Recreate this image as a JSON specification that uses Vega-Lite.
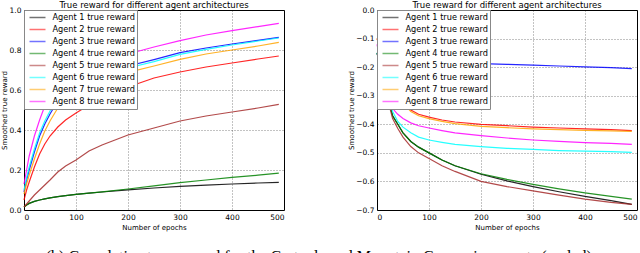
{
"$schema": "https://vega.github.io/schema/vega-lite/v6.json",
"padding": {"left": 0, "top": 0, "right": 0, "bottom": 0},
"background": "white",
"datasets": {
"cartpole": [
{"agent":1,"epoch":0,"reward":0.015},{"agent":1,"epoch":5,"reward":0.025},{"agent":1,"epoch":10,"reward":0.033},{"agent":1,"epoch":20,"reward":0.043},{"agent":1,"epoch":30,"reward":0.05},{"agent":1,"epoch":40,"reward":0.056},{"agent":1,"epoch":50,"reward":0.061},{"agent":1,"epoch":65,"reward":0.067},{"agent":1,"epoch":80,"reward":0.072},{"agent":1,"epoch":100,"reward":0.078},{"agent":1,"epoch":125,"reward":0.084},{"agent":1,"epoch":150,"reward":0.09},{"agent":1,"epoch":200,"reward":0.101},{"agent":1,"epoch":250,"reward":0.11},{"agent":1,"epoch":300,"reward":0.118},{"agent":1,"epoch":350,"reward":0.124},{"agent":1,"epoch":400,"reward":0.13},{"agent":1,"epoch":450,"reward":0.135},{"agent":1,"epoch":490,"reward":0.138},
{"agent":2,"epoch":0,"reward":0.05},{"agent":2,"epoch":5,"reward":0.1},{"agent":2,"epoch":10,"reward":0.14},{"agent":2,"epoch":20,"reward":0.215},{"agent":2,"epoch":30,"reward":0.28},{"agent":2,"epoch":40,"reward":0.33},{"agent":2,"epoch":50,"reward":0.37},{"agent":2,"epoch":65,"reward":0.415},{"agent":2,"epoch":80,"reward":0.45},{"agent":2,"epoch":100,"reward":0.485},{"agent":2,"epoch":125,"reward":0.525},{"agent":2,"epoch":150,"reward":0.56},{"agent":2,"epoch":200,"reward":0.615},{"agent":2,"epoch":250,"reward":0.66},{"agent":2,"epoch":300,"reward":0.69},{"agent":2,"epoch":350,"reward":0.715},{"agent":2,"epoch":400,"reward":0.735},{"agent":2,"epoch":450,"reward":0.755},{"agent":2,"epoch":490,"reward":0.77},
{"agent":3,"epoch":0,"reward":0.09},{"agent":3,"epoch":5,"reward":0.15},{"agent":3,"epoch":10,"reward":0.2},{"agent":3,"epoch":20,"reward":0.29},{"agent":3,"epoch":30,"reward":0.37},{"agent":3,"epoch":40,"reward":0.43},{"agent":3,"epoch":50,"reward":0.48},{"agent":3,"epoch":65,"reward":0.545},{"agent":3,"epoch":80,"reward":0.59},{"agent":3,"epoch":100,"reward":0.63},{"agent":3,"epoch":125,"reward":0.66},{"agent":3,"epoch":150,"reward":0.685},{"agent":3,"epoch":200,"reward":0.72},{"agent":3,"epoch":250,"reward":0.752},{"agent":3,"epoch":300,"reward":0.787},{"agent":3,"epoch":350,"reward":0.81},{"agent":3,"epoch":400,"reward":0.83},{"agent":3,"epoch":450,"reward":0.848},{"agent":3,"epoch":490,"reward":0.863},
{"agent":4,"epoch":0,"reward":0.015},{"agent":4,"epoch":5,"reward":0.025},{"agent":4,"epoch":10,"reward":0.033},{"agent":4,"epoch":20,"reward":0.043},{"agent":4,"epoch":30,"reward":0.05},{"agent":4,"epoch":40,"reward":0.056},{"agent":4,"epoch":50,"reward":0.061},{"agent":4,"epoch":65,"reward":0.067},{"agent":4,"epoch":80,"reward":0.072},{"agent":4,"epoch":100,"reward":0.078},{"agent":4,"epoch":125,"reward":0.084},{"agent":4,"epoch":150,"reward":0.091},{"agent":4,"epoch":200,"reward":0.105},{"agent":4,"epoch":250,"reward":0.121},{"agent":4,"epoch":300,"reward":0.137},{"agent":4,"epoch":350,"reward":0.15},{"agent":4,"epoch":400,"reward":0.163},{"agent":4,"epoch":450,"reward":0.174},{"agent":4,"epoch":490,"reward":0.184},
{"agent":5,"epoch":0,"reward":0.015},{"agent":5,"epoch":5,"reward":0.03},{"agent":5,"epoch":10,"reward":0.045},{"agent":5,"epoch":20,"reward":0.075},{"agent":5,"epoch":30,"reward":0.1},{"agent":5,"epoch":40,"reward":0.125},{"agent":5,"epoch":50,"reward":0.15},{"agent":5,"epoch":65,"reward":0.19},{"agent":5,"epoch":80,"reward":0.22},{"agent":5,"epoch":100,"reward":0.25},{"agent":5,"epoch":125,"reward":0.295},{"agent":5,"epoch":150,"reward":0.325},{"agent":5,"epoch":200,"reward":0.375},{"agent":5,"epoch":250,"reward":0.41},{"agent":5,"epoch":300,"reward":0.445},{"agent":5,"epoch":350,"reward":0.47},{"agent":5,"epoch":400,"reward":0.49},{"agent":5,"epoch":450,"reward":0.51},{"agent":5,"epoch":490,"reward":0.528},
{"agent":6,"epoch":0,"reward":0.1},{"agent":6,"epoch":5,"reward":0.16},{"agent":6,"epoch":10,"reward":0.215},{"agent":6,"epoch":20,"reward":0.305},{"agent":6,"epoch":30,"reward":0.385},{"agent":6,"epoch":40,"reward":0.445},{"agent":6,"epoch":50,"reward":0.495},{"agent":6,"epoch":65,"reward":0.555},{"agent":6,"epoch":80,"reward":0.595},{"agent":6,"epoch":100,"reward":0.625},{"agent":6,"epoch":125,"reward":0.655},{"agent":6,"epoch":150,"reward":0.678},{"agent":6,"epoch":200,"reward":0.71},{"agent":6,"epoch":250,"reward":0.742},{"agent":6,"epoch":300,"reward":0.778},{"agent":6,"epoch":350,"reward":0.803},{"agent":6,"epoch":400,"reward":0.825},{"agent":6,"epoch":450,"reward":0.845},{"agent":6,"epoch":490,"reward":0.86},
{"agent":7,"epoch":0,"reward":0.08},{"agent":7,"epoch":5,"reward":0.13},{"agent":7,"epoch":10,"reward":0.175},{"agent":7,"epoch":20,"reward":0.255},{"agent":7,"epoch":30,"reward":0.33},{"agent":7,"epoch":40,"reward":0.395},{"agent":7,"epoch":50,"reward":0.445},{"agent":7,"epoch":65,"reward":0.51},{"agent":7,"epoch":80,"reward":0.555},{"agent":7,"epoch":100,"reward":0.595},{"agent":7,"epoch":125,"reward":0.628},{"agent":7,"epoch":150,"reward":0.652},{"agent":7,"epoch":200,"reward":0.688},{"agent":7,"epoch":250,"reward":0.72},{"agent":7,"epoch":300,"reward":0.753},{"agent":7,"epoch":350,"reward":0.78},{"agent":7,"epoch":400,"reward":0.8},{"agent":7,"epoch":450,"reward":0.82},{"agent":7,"epoch":490,"reward":0.838},
{"agent":8,"epoch":0,"reward":0.13},{"agent":8,"epoch":5,"reward":0.2},{"agent":8,"epoch":10,"reward":0.27},{"agent":8,"epoch":20,"reward":0.37},{"agent":8,"epoch":30,"reward":0.45},{"agent":8,"epoch":40,"reward":0.52},{"agent":8,"epoch":50,"reward":0.565},{"agent":8,"epoch":65,"reward":0.615},{"agent":8,"epoch":80,"reward":0.655},{"agent":8,"epoch":100,"reward":0.69},{"agent":8,"epoch":125,"reward":0.72},{"agent":8,"epoch":150,"reward":0.74},{"agent":8,"epoch":200,"reward":0.78},{"agent":8,"epoch":250,"reward":0.815},{"agent":8,"epoch":300,"reward":0.847},{"agent":8,"epoch":350,"reward":0.875},{"agent":8,"epoch":400,"reward":0.897},{"agent":8,"epoch":450,"reward":0.917},{"agent":8,"epoch":490,"reward":0.933}
],
"mountain": [
{"agent":1,"epoch":0,"reward":-0.15},{"agent":1,"epoch":10,"reward":-0.22},{"agent":1,"epoch":20,"reward":-0.3},{"agent":1,"epoch":30,"reward":-0.37},{"agent":1,"epoch":40,"reward":-0.4},{"agent":1,"epoch":50,"reward":-0.43},{"agent":1,"epoch":65,"reward":-0.46},{"agent":1,"epoch":80,"reward":-0.48},{"agent":1,"epoch":100,"reward":-0.5},{"agent":1,"epoch":125,"reward":-0.525},{"agent":1,"epoch":150,"reward":-0.545},{"agent":1,"epoch":200,"reward":-0.575},{"agent":1,"epoch":250,"reward":-0.598},{"agent":1,"epoch":300,"reward":-0.618},{"agent":1,"epoch":350,"reward":-0.636},{"agent":1,"epoch":400,"reward":-0.652},{"agent":1,"epoch":450,"reward":-0.667},{"agent":1,"epoch":490,"reward":-0.68},
{"agent":2,"epoch":0,"reward":-0.1},{"agent":2,"epoch":10,"reward":-0.15},{"agent":2,"epoch":20,"reward":-0.2},{"agent":2,"epoch":30,"reward":-0.25},{"agent":2,"epoch":40,"reward":-0.29},{"agent":2,"epoch":50,"reward":-0.32},{"agent":2,"epoch":65,"reward":-0.35},{"agent":2,"epoch":80,"reward":-0.365},{"agent":2,"epoch":100,"reward":-0.375},{"agent":2,"epoch":125,"reward":-0.385},{"agent":2,"epoch":150,"reward":-0.392},{"agent":2,"epoch":200,"reward":-0.4},{"agent":2,"epoch":250,"reward":-0.405},{"agent":2,"epoch":300,"reward":-0.41},{"agent":2,"epoch":350,"reward":-0.413},{"agent":2,"epoch":400,"reward":-0.416},{"agent":2,"epoch":450,"reward":-0.419},{"agent":2,"epoch":490,"reward":-0.422},
{"agent":3,"epoch":0,"reward":-0.17},{"agent":3,"epoch":10,"reward":-0.171},{"agent":3,"epoch":20,"reward":-0.172},{"agent":3,"epoch":30,"reward":-0.173},{"agent":3,"epoch":40,"reward":-0.174},{"agent":3,"epoch":50,"reward":-0.175},{"agent":3,"epoch":65,"reward":-0.177},{"agent":3,"epoch":80,"reward":-0.178},{"agent":3,"epoch":100,"reward":-0.18},{"agent":3,"epoch":125,"reward":-0.182},{"agent":3,"epoch":150,"reward":-0.184},{"agent":3,"epoch":200,"reward":-0.188},{"agent":3,"epoch":250,"reward":-0.19},{"agent":3,"epoch":300,"reward":-0.193},{"agent":3,"epoch":350,"reward":-0.196},{"agent":3,"epoch":400,"reward":-0.199},{"agent":3,"epoch":450,"reward":-0.202},{"agent":3,"epoch":490,"reward":-0.205},
{"agent":4,"epoch":0,"reward":-0.15},{"agent":4,"epoch":10,"reward":-0.22},{"agent":4,"epoch":20,"reward":-0.3},{"agent":4,"epoch":30,"reward":-0.37},{"agent":4,"epoch":40,"reward":-0.4},{"agent":4,"epoch":50,"reward":-0.43},{"agent":4,"epoch":65,"reward":-0.46},{"agent":4,"epoch":80,"reward":-0.48},{"agent":4,"epoch":100,"reward":-0.5},{"agent":4,"epoch":125,"reward":-0.525},{"agent":4,"epoch":150,"reward":-0.545},{"agent":4,"epoch":200,"reward":-0.573},{"agent":4,"epoch":250,"reward":-0.593},{"agent":4,"epoch":300,"reward":-0.61},{"agent":4,"epoch":350,"reward":-0.626},{"agent":4,"epoch":400,"reward":-0.64},{"agent":4,"epoch":450,"reward":-0.652},{"agent":4,"epoch":490,"reward":-0.662},
{"agent":5,"epoch":0,"reward":-0.15},{"agent":5,"epoch":10,"reward":-0.23},{"agent":5,"epoch":20,"reward":-0.31},{"agent":5,"epoch":30,"reward":-0.38},{"agent":5,"epoch":40,"reward":-0.415},{"agent":5,"epoch":50,"reward":-0.445},{"agent":5,"epoch":65,"reward":-0.478},{"agent":5,"epoch":80,"reward":-0.5},{"agent":5,"epoch":100,"reward":-0.52},{"agent":5,"epoch":125,"reward":-0.545},{"agent":5,"epoch":150,"reward":-0.565},{"agent":5,"epoch":200,"reward":-0.6},{"agent":5,"epoch":250,"reward":-0.618},{"agent":5,"epoch":300,"reward":-0.633},{"agent":5,"epoch":350,"reward":-0.648},{"agent":5,"epoch":400,"reward":-0.662},{"agent":5,"epoch":450,"reward":-0.673},{"agent":5,"epoch":490,"reward":-0.68},
{"agent":6,"epoch":0,"reward":-0.15},{"agent":6,"epoch":10,"reward":-0.22},{"agent":6,"epoch":20,"reward":-0.29},{"agent":6,"epoch":30,"reward":-0.355},{"agent":6,"epoch":40,"reward":-0.39},{"agent":6,"epoch":50,"reward":-0.41},{"agent":6,"epoch":65,"reward":-0.43},{"agent":6,"epoch":80,"reward":-0.445},{"agent":6,"epoch":100,"reward":-0.455},{"agent":6,"epoch":125,"reward":-0.463},{"agent":6,"epoch":150,"reward":-0.47},{"agent":6,"epoch":200,"reward":-0.478},{"agent":6,"epoch":250,"reward":-0.484},{"agent":6,"epoch":300,"reward":-0.488},{"agent":6,"epoch":350,"reward":-0.492},{"agent":6,"epoch":400,"reward":-0.494},{"agent":6,"epoch":450,"reward":-0.496},{"agent":6,"epoch":490,"reward":-0.498},
{"agent":7,"epoch":0,"reward":-0.1},{"agent":7,"epoch":10,"reward":-0.15},{"agent":7,"epoch":20,"reward":-0.2},{"agent":7,"epoch":30,"reward":-0.25},{"agent":7,"epoch":40,"reward":-0.29},{"agent":7,"epoch":50,"reward":-0.325},{"agent":7,"epoch":65,"reward":-0.355},{"agent":7,"epoch":80,"reward":-0.37},{"agent":7,"epoch":100,"reward":-0.38},{"agent":7,"epoch":125,"reward":-0.39},{"agent":7,"epoch":150,"reward":-0.398},{"agent":7,"epoch":200,"reward":-0.407},{"agent":7,"epoch":250,"reward":-0.412},{"agent":7,"epoch":300,"reward":-0.416},{"agent":7,"epoch":350,"reward":-0.419},{"agent":7,"epoch":400,"reward":-0.421},{"agent":7,"epoch":450,"reward":-0.423},{"agent":7,"epoch":490,"reward":-0.425},
{"agent":8,"epoch":0,"reward":-0.12},{"agent":8,"epoch":10,"reward":-0.2},{"agent":8,"epoch":20,"reward":-0.28},{"agent":8,"epoch":30,"reward":-0.345},{"agent":8,"epoch":40,"reward":-0.365},{"agent":8,"epoch":50,"reward":-0.38},{"agent":8,"epoch":65,"reward":-0.395},{"agent":8,"epoch":80,"reward":-0.405},{"agent":8,"epoch":100,"reward":-0.413},{"agent":8,"epoch":125,"reward":-0.422},{"agent":8,"epoch":150,"reward":-0.43},{"agent":8,"epoch":200,"reward":-0.44},{"agent":8,"epoch":250,"reward":-0.448},{"agent":8,"epoch":300,"reward":-0.455},{"agent":8,"epoch":350,"reward":-0.46},{"agent":8,"epoch":400,"reward":-0.464},{"agent":8,"epoch":450,"reward":-0.467},{"agent":8,"epoch":490,"reward":-0.47}
]
},
"title": {"text": "(b) Cumulative true reward for the Cartpole and Mountain Car environments (scaled)", "orient": "bottom", "anchor": "middle", "font": "Liberation Serif", "fontSize": 16, "fontWeight": "normal", "color": "black", "offset": 18},
"spacing": 93,
"bounds": "flush",
"resolve": {"legend": {"color": "independent"}},
"hconcat": [
{
"width": 260, "height": 200,
"title": "True reward for different agent architectures",
"data": {"name": "cartpole"},
"mark": {"type": "line", "strokeWidth": 1.2, "opacity": 0.85},
"encoding": {
"x": {"field": "epoch", "type": "quantitative", "scale": {"domain": [0, 500]}, "axis": {"title": "Number of epochs", "values": [0,100,200,300,400,500]}},
"y": {"field": "reward", "type": "quantitative", "scale": {"domain": [0, 1]}, "axis": {"title": "Smoothed true reward", "values": [0,0.2,0.4,0.6,0.8,1.0], "format": ".1f"}},
"color": {"field": "agent", "type": "nominal", "scale": {"domain": [1,2,3,4,5,6,7,8], "range": ["black","red","blue","#008000","#a52a2a","cyan","orange","magenta"]}, "legend": {"labelExpr": "'Agent ' + datum.label + ' true reward'"}}
}
},
{
"width": 260, "height": 200,
"title": "True reward for different agent architectures",
"data": {"name": "mountain"},
"mark": {"type": "line", "strokeWidth": 1.2, "opacity": 0.85},
"encoding": {
"x": {"field": "epoch", "type": "quantitative", "scale": {"domain": [0, 500]}, "axis": {"title": "Number of epochs", "values": [0,100,200,300,400,500]}},
"y": {"field": "reward", "type": "quantitative", "scale": {"domain": [-0.7, 0]}, "axis": {"title": "Smoothed true reward", "values": [0,-0.1,-0.2,-0.3,-0.4,-0.5,-0.6,-0.7], "format": ".1f"}},
"color": {"field": "agent", "type": "nominal", "scale": {"domain": [1,2,3,4,5,6,7,8], "range": ["black","red","blue","#008000","#a52a2a","cyan","orange","magenta"]}, "legend": {"labelExpr": "'Agent ' + datum.label + ' true reward'"}}
}
}
],
"config": {
"view": {"stroke": "black", "strokeWidth": 1},
"axis": {"labelFont": "DejaVu Sans", "labelFontSize": 7.5, "labelColor": "black", "titleFont": "DejaVu Sans", "titleFontSize": 7, "titleFontWeight": "normal", "titleColor": "black", "domain": false, "ticks": false, "labelPadding": 3, "grid": true, "gridColor": "black", "gridDash": [1,2], "gridOpacity": 0.6, "gridWidth": 0.8},
"axisX": {"titlePadding": 3},
"axisY": {"titlePadding": 1.5},
"title": {"font": "DejaVu Sans", "fontSize": 8.5, "fontWeight": "normal", "color": "black", "offset": -3},
"legend": {"orient": "top-left", "offset": 0, "title": null, "fillColor": "white", "strokeColor": "#888888", "padding": 1.5, "labelFont": "DejaVu Sans", "labelFontSize": 8.2, "labelColor": "black", "symbolType": "stroke", "symbolSize": 256, "symbolStrokeWidth": 1.5, "symbolOpacity": 0.55, "symbolOffset": 3, "labelOffset": 6, "rowPadding": 0, "clipHeight": 12}
}
}
